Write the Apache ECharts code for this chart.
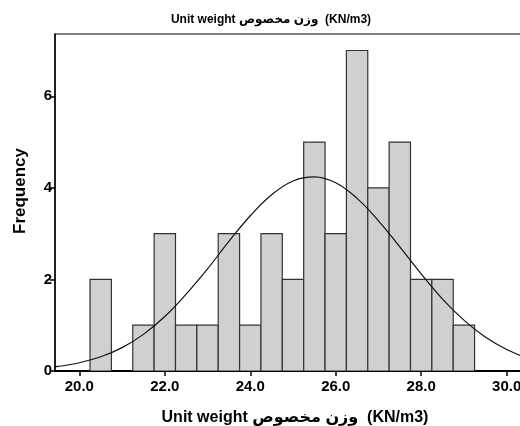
<!DOCTYPE html>
<html>
<head>
<meta charset="utf-8">
<script src="https://cdn.jsdelivr.net/npm/echarts@6/dist/echarts.min.js"></script>
<style>
html,body{margin:0;padding:0;overflow:hidden;background:#fff;width:520px;height:426px;}
#main{width:540px;height:426px;}
</style>
</head>
<body>
<div id="main"></div>
<script>
// Histogram bins (centers) and frequencies
const binCenters = [20.5, 21.0, 21.5, 22.0, 22.5, 23.0, 23.5, 24.0, 24.5, 25.0, 25.5, 26.0, 26.5, 27.0, 27.5, 28.0, 28.5, 29.0];
const counts     = [2,    0,    1,    3,    1,    1,    3,    1,    3,    2,    5,    3,    7,    4,    5,    2,    2,    1];
const binWidth = 0.5;

// Fitted normal curve
const curveX = [19.0, 19.5, 20.0, 20.5, 21.0, 21.5, 22.0, 22.5, 23.0, 23.5, 24.0, 24.5, 25.0, 25.5, 26.0, 26.5, 27.0, 27.5, 28.0, 28.5, 29.0, 29.5, 30.0, 30.5, 31.0];
const curveY = [0.05, 0.10, 0.18, 0.31, 0.51, 0.80, 1.19, 1.68, 2.23, 2.83, 3.39, 3.85, 4.15, 4.24, 4.11, 3.77, 3.28, 2.71, 2.12, 1.57, 1.11, 0.74, 0.47, 0.28, 0.16];

const xTicks = [20, 22, 24, 26, 28, 30];
const yTicks = [0, 2, 4, 6];

const titleText = 'Unit weight وزن مخصوص  (KN/m3)';
const xName = 'Unit weight وزن مخصوص  (KN/m3)';
const yName = 'Frequency';

const FONT = '"Liberation Sans", Arial, "DejaVu Sans", sans-serif';

const chart = echarts.init(document.getElementById('main'), null, {renderer: 'canvas'});

const barData = binCenters.map((c, i) => [c, counts[i]]);
const lineData = curveX.map((x, i) => [x, curveY[i]]);

chart.setOption({
  animation: false,
  backgroundColor: '#fff',
  grid: {
    left: 55, top: 34, right: 12, bottom: 55,
    show: true, borderColor: '#000', borderWidth: 1, backgroundColor: 'transparent'
  },
  xAxis: {
    type: 'value', min: 19.43, max: 30.5,
    splitLine: {show: false},
    axisLine: {show: true, onZero: false, lineStyle: {color: '#000', width: 2}},
    axisTick: {show: true, customValues: xTicks, length: 5, lineStyle: {color: '#000', width: 1.5}},
    axisLabel: {
      customValues: xTicks, margin: 8,
      formatter: v => v.toFixed(1),
      color: '#000', fontWeight: 'bold', fontSize: 15, fontFamily: FONT
    }
  },
  yAxis: {
    type: 'value', min: 0, max: 7.36,
    splitLine: {show: false},
    axisLine: {show: true, lineStyle: {color: '#000', width: 1.5}},
    axisTick: {show: true, customValues: yTicks, length: 5, lineStyle: {color: '#000', width: 1.5}},
    axisLabel: {
      customValues: yTicks, margin: 3,
      color: '#000', fontWeight: 'bold', fontSize: 15, fontFamily: FONT
    }
  },
  graphic: [
    {type: 'text', x: 271, y: 20, z: 10,
     style: {text: titleText, font: 'bold 12px ' + FONT, fill: '#000', align: 'center', verticalAlign: 'middle'}},
    {type: 'text', x: 295, y: 418, z: 10,
     style: {text: xName, font: 'bold 16px ' + FONT, fill: '#000', align: 'center', verticalAlign: 'middle'}},
    {type: 'text', x: 20, y: 191, rotation: Math.PI / 2, z: 10,
     style: {text: yName, font: 'bold 17px ' + FONT, fill: '#000', align: 'center', verticalAlign: 'middle'}}
  ],
  series: [
    {
      type: 'custom',
      data: barData,
      clip: true,
      z: 2,
      renderItem: function (params, api) {
        const c = api.value(0), h = api.value(1);
        if (!h) return null;
        const p0 = api.coord([c - binWidth / 2, h]);
        const p1 = api.coord([c + binWidth / 2, 0]);
        return {
          type: 'rect',
          shape: {x: p0[0], y: p0[1], width: p1[0] - p0[0], height: p1[1] - p0[1]},
          style: {fill: '#d0d0d0', stroke: '#333', lineWidth: 1.2}
        };
      }
    },
    {
      type: 'line',
      data: lineData,
      smooth: 0.4,
      showSymbol: false,
      symbol: 'none',
      clip: true,
      z: 3,
      lineStyle: {color: '#111', width: 1.2}
    }
  ]
});
</script>
</body>
</html>
